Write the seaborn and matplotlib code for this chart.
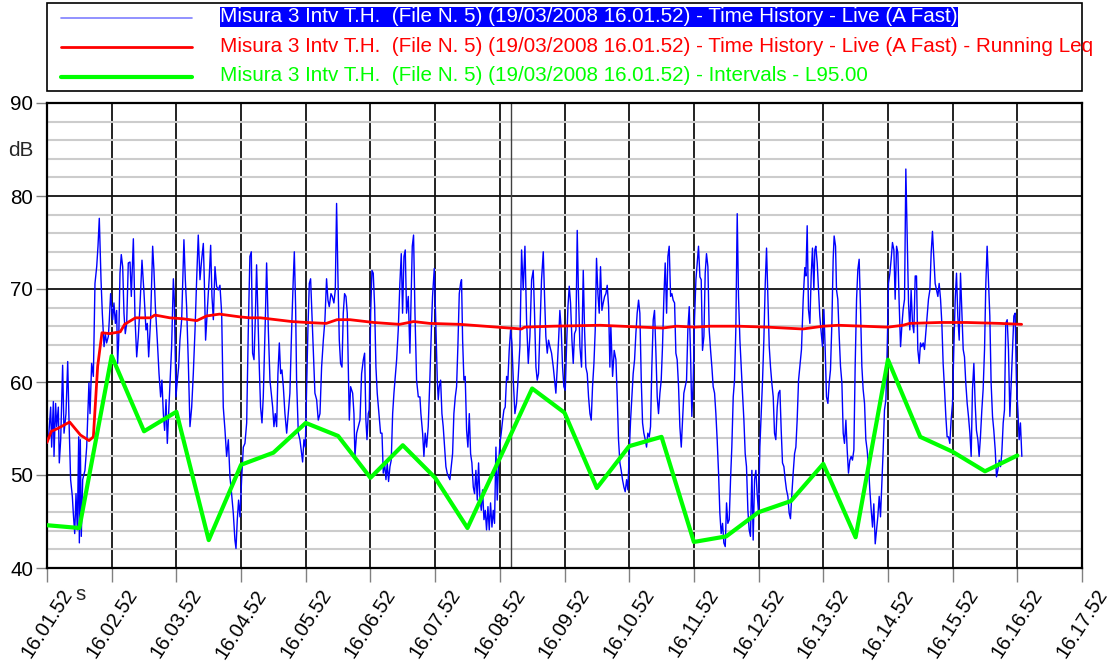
import numpy as np
import pandas as pd
import matplotlib
matplotlib.use("Agg")
import matplotlib.pyplot as plt
import matplotlib.transforms as mtransforms
import seaborn as sns
from matplotlib.lines import Line2D
from matplotlib.patches import Rectangle
from matplotlib.ticker import MultipleLocator

# =========================================================
# Data (seconds from 16.01.52, dB(A))
# =========================================================
TICK_SEC = [0, 60, 120, 180, 240, 300, 360, 420, 480, 540, 600, 660, 720, 780, 840, 900, 960]
TICK_LABELS = ["16.01.52", "16.02.52", "16.03.52", "16.04.52", "16.05.52", "16.06.52",
               "16.07.52", "16.08.52", "16.09.52", "16.10.52", "16.11.52", "16.12.52",
               "16.13.52", "16.14.52", "16.15.52", "16.16.52", "16.17.52"]

LEGEND_LABELS = [
    "Misura 3 Intv T.H.  (File N. 5) (19/03/2008 16.01.52) - Time History - Live (A Fast)",
    "Misura 3 Intv T.H.  (File N. 5) (19/03/2008 16.01.52) - Time History - Live (A Fast) - Running Leq",
    "Misura 3 Intv T.H.  (File N. 5) (19/03/2008 16.01.52) - Intervals - L95.00",
]

# time history - live (A fast)
BLUE_T = [
    0.0, 1.5, 3.4, 4.3, 5.9, 6.5, 8.0, 9.0, 10.5, 11.4,
    12.7, 14.5, 15.8, 17.6, 19.2, 20.4, 21.9, 23.5, 24.4, 25.7,
    26.9, 28.1, 29.4, 30.0, 30.9, 31.8, 33.1, 35.2, 36.8, 38.9,
    39.9, 41.4, 43.0, 44.5, 46.1, 47.3, 48.5, 50.1, 51.3, 52.9,
    54.1, 55.3, 56.9, 57.8, 59.0, 60.0, 60.9, 62.1, 63.4, 64.6,
    65.5, 66.5, 67.7, 68.9, 70.2, 71.4, 72.6, 73.9, 75.4, 77.0,
    78.2, 80.1, 81.6, 83.2, 84.7, 86.2, 88.1, 90.0, 91.8, 93.0,
    94.3, 96.1, 98.0, 99.2, 100.5, 102.3, 103.9, 105.4, 106.6, 107.9,
    109.1, 110.4, 111.6, 112.8, 114.1, 115.6, 117.2, 118.1, 119.6, 120.9,
    122.1, 123.3, 124.9, 127.0, 128.3, 129.5, 131.1, 132.6, 134.2, 135.7,
    137.3, 138.8, 140.3, 141.9, 143.4, 145.0, 145.9, 147.1, 148.7, 150.5,
    151.8, 153.0, 154.3, 155.8, 157.3, 158.9, 160.4, 162.0, 163.5, 165.1,
    166.6, 168.2,
    169.7, 171.2, 172.8, 174.3, 175.3, 176.5, 177.7, 179.0, 180.5, 182.1,
    183.6, 185.2, 186.7, 188.2, 189.5, 190.7, 192.0, 193.2, 194.4, 195.7,
    196.9, 198.1, 199.4, 200.6, 202.5, 203.7, 205.3, 206.8, 208.0, 209.3,
    210.5, 211.7, 213.0, 214.2, 215.5, 216.7, 217.9, 219.2, 220.7, 222.3,
    223.8, 225.3, 226.9, 228.4, 229.4, 230.6, 231.5, 233.1, 234.6, 236.2,
    237.1, 238.3, 239.6, 240.8, 242.0, 243.3, 244.5, 245.7, 247.0, 248.5,
    250.1, 251.6, 253.2, 254.7, 256.3, 257.8, 259.3, 260.6, 261.8, 263.4,
    264.6, 266.1, 267.4, 268.6, 269.9, 271.1, 272.3, 273.6, 274.8, 276.0,
    277.3, 278.5, 279.7, 280.4, 281.6, 283.5, 284.7, 285.6, 287.2, 288.7,
    290.3, 291.8, 293.4, 294.6, 295.8, 296.8, 298.0, 298.9, 300.2, 301.4,
    302.6, 303.9, 305.1, 306.3, 307.9, 309.4, 310.7, 311.9, 313.1, 314.4,
    315.6, 316.8, 318.1, 319.3, 320.6, 321.8, 323.0, 324.3, 325.8, 327.3,
    328.6, 329.8, 331.1, 332.3, 333.5, 335.1, 336.6, 337.6, 338.8, 340.0,
    341.3, 342.8, 344.4,
    345.9, 346.8, 348.4, 349.6, 350.8, 352.1, 353.6, 355.2, 356.7, 357.6,
    359.2, 360.4, 362.0, 362.9, 363.8, 365.1, 366.3, 367.5, 368.8, 370.0,
    371.2, 372.5, 373.7, 375.0, 376.2, 377.4, 378.7, 379.9, 381.1, 382.4,
    383.6, 384.5, 385.5, 386.7, 387.9, 389.2, 390.4, 391.7, 392.9, 394.1,
    395.4, 396.6, 397.8, 399.1, 400.3, 401.5, 402.8, 404.0, 405.3, 406.5,
    407.7, 409.0, 410.2, 411.4, 412.7, 413.9, 415.1, 416.4, 417.6, 418.9,
    420.1, 421.3, 422.6, 423.8, 425.0, 426.3, 427.5, 428.7, 430.0, 431.2,
    432.5, 434.0, 435.5, 437.1, 438.6, 440.2, 441.7, 443.3, 444.8, 446.4,
    447.9, 449.5, 451.0, 452.2, 453.5, 454.7, 455.9, 457.2, 458.7, 460.3,
    461.5, 462.7, 464.0, 465.2, 466.5, 468.0, 469.6, 471.1, 472.0, 473.3,
    474.5, 475.7, 477.0, 478.2, 479.4, 480.7, 481.9, 483.2, 484.4, 485.6,
    486.9, 488.1, 489.3, 490.6, 491.8, 493.0, 494.3, 495.8, 497.4, 498.6,
    499.8, 501.1, 502.3, 503.6, 504.8, 506.0, 507.3, 508.5, 509.7, 511.0,
    512.2, 513.4, 514.7, 515.9, 517.2, 518.4, 519.6, 520.9,
    522.1, 523.0, 524.6, 526.1, 527.7, 528.9, 530.1, 531.4, 532.6, 533.8,
    535.1, 536.3, 537.6, 538.8, 540.0, 541.3, 542.5, 543.7, 545.0, 546.2,
    547.4, 548.7, 549.9, 551.2, 552.4, 553.6, 554.9, 556.1, 557.3, 558.6,
    559.8, 561.0, 562.3, 563.5, 564.8, 566.0, 567.2, 568.5, 569.7, 570.9,
    572.2, 573.4, 574.7, 575.9, 577.1, 578.4, 579.6, 580.8, 582.1, 583.3,
    584.5, 585.8, 587.0, 588.3, 589.5, 590.7, 592.0, 593.2, 594.4, 595.7,
    596.9, 598.1, 599.4, 600.6, 601.9, 603.1, 604.3, 605.6, 606.8, 608.0,
    609.3, 610.5, 611.7, 613.0, 614.2, 615.5, 616.7, 617.9, 619.2, 620.4,
    621.6, 622.9, 624.1, 625.3, 626.6, 627.8, 629.1, 630.3, 631.5, 632.8,
    634.0, 635.2, 636.5, 637.7, 638.9, 640.2, 641.4, 642.7, 643.9, 645.1,
    646.4, 647.6, 648.8, 650.1, 651.3, 652.5, 653.8, 655.0, 656.3, 657.5,
    658.7, 660.0, 661.2, 662.4, 663.7, 664.9, 666.2, 667.4, 668.6, 669.9,
    671.1, 672.3, 673.6, 674.8, 676.0, 677.3, 678.5, 679.8, 681.0, 682.2,
    683.5, 684.7, 685.9, 687.2, 688.4, 689.6, 690.9, 692.1, 693.4, 694.6,
    695.8, 697.1,
    699.8, 701.4, 702.9, 703.9, 705.1, 706.3, 707.6, 708.8, 710.0, 711.3,
    712.2, 713.1, 714.4, 715.6, 716.8, 718.1, 719.3, 720.6, 721.8, 723.0,
    724.3, 725.5, 726.7, 728.0, 729.2, 730.1, 731.4, 732.3, 733.5, 734.8,
    736.0, 737.3, 738.5, 739.7, 741.0, 742.2, 743.4, 744.7, 745.9, 747.1,
    748.4, 749.6, 750.9, 752.1, 753.3, 754.6, 755.8, 757.0, 758.3, 759.5,
    760.7, 762.0, 763.2, 764.5, 765.7, 766.9, 768.2, 769.4, 770.6, 771.9,
    773.1, 774.3, 775.6, 776.8, 778.1, 779.3, 780.5, 781.8, 783.0, 784.2,
    785.5, 786.7, 788.0, 789.2, 790.4, 791.7, 792.9, 794.1, 795.4, 796.6,
    797.8, 799.1, 800.3, 801.5, 802.8, 804.0, 805.3, 806.5, 807.7, 809.0,
    810.2, 811.4, 812.7, 813.9, 815.1, 816.4, 817.6, 818.9, 820.1, 821.3,
    822.6, 823.8, 825.0, 826.3, 827.5, 828.8, 830.0, 831.2, 832.5, 833.7,
    834.9, 836.2, 837.4, 838.6, 839.9, 841.1, 842.4, 843.6, 844.8, 846.1,
    847.3, 848.5, 849.8, 851.0, 852.2, 853.5, 854.7, 856.0, 857.2, 858.4,
    859.7, 860.9, 862.1, 863.4, 864.6, 865.8, 867.1, 868.3, 869.6, 870.8,
    872.0, 873.3, 874.5, 875.7, 877.0, 878.2, 879.5, 880.7, 881.9, 883.2,
    884.4, 885.6, 886.9, 888.1, 889.3, 890.6, 891.8, 893.1, 894.3, 895.5,
    896.8, 898.0, 899.2, 900.5, 901.7, 902.9, 904.2,
]
BLUE_DB = [
    53.4, 54.1, 57.3, 53.0, 57.9, 52.0, 57.7, 55.2, 57.3, 51.3,
    53.8, 61.8, 54.5, 56.6, 62.2, 55.9, 49.5, 47.7, 45.9, 43.7,
    48.0, 44.1, 54.1, 42.7, 53.8, 43.4, 49.5, 50.5, 53.0, 59.9,
    56.6, 62.0, 60.6, 70.6, 72.4, 74.6, 77.6, 71.0, 67.4, 63.8,
    65.2, 64.2, 64.9, 66.7, 69.5, 68.1, 66.7, 68.5, 66.3, 67.7,
    62.0, 64.5, 71.7, 73.7, 72.4, 67.4, 65.2, 66.3, 72.8, 72.9,
    69.2, 75.4, 67.0, 62.7, 64.9, 68.1, 73.1, 69.5, 65.6, 66.3,
    62.7, 66.7, 74.6, 72.0, 68.1, 64.5, 60.9, 58.4, 60.2, 56.6,
    54.8, 58.1, 53.4, 56.6, 60.2, 63.8, 71.1, 68.8, 58.4, 60.2,
    61.6, 64.5, 66.7, 75.3, 71.0, 68.1, 62.0, 55.2, 57.3, 60.9,
    65.6, 71.0, 75.8, 71.0, 73.1, 74.9, 71.0, 64.5, 67.7, 71.3,
    74.7, 69.2, 66.7, 72.4, 70.3, 69.9, 70.4, 67.4, 57.3, 54.8,
    52.0, 53.8,
    49.8, 48.0, 45.9, 43.0, 42.1, 45.2, 47.3, 45.5, 49.5, 53.0,
    53.4, 55.6, 65.6, 73.5, 74.0, 63.1, 62.4, 66.7, 72.6, 66.7,
    61.6, 57.3, 55.6, 58.4, 66.7, 72.8, 65.6, 60.2, 58.8, 57.3,
    55.2, 56.6, 55.2, 60.9, 64.2, 60.9, 61.3, 59.5, 56.6, 54.5,
    56.6, 58.8, 65.6, 71.0, 74.0, 68.1, 60.2, 54.5, 53.8, 52.3,
    51.4, 53.8, 53.0, 59.5, 65.6, 70.6, 71.1, 67.4, 63.1, 58.8,
    58.1, 55.9, 56.6, 61.6, 64.5, 66.7, 71.1, 68.8, 68.1, 69.5,
    69.2, 68.5, 69.9, 79.2, 71.0, 64.5, 62.0, 61.6, 67.4, 69.5,
    69.2, 67.4, 60.2, 55.9, 59.5, 58.8, 56.6, 52.0, 54.5, 55.2,
    55.9, 60.9, 62.4, 63.1, 55.9, 53.8, 56.6, 57.0, 67.4, 72.0,
    71.7, 68.1, 61.6, 58.8, 56.6, 54.5, 54.5, 50.2, 51.3, 49.5,
    51.3, 49.3, 50.9, 51.6, 56.6, 58.8, 60.6, 62.4, 65.6, 70.6,
    73.8, 67.4, 73.5, 74.2, 67.4, 69.2, 63.1, 68.1, 74.6, 75.8,
    67.4, 60.2, 58.4,
    58.4, 56.6, 54.5, 52.0, 54.5, 53.0, 55.2, 60.6, 66.3, 69.2,
    72.2, 67.4, 60.2, 58.1, 59.5, 60.2, 56.6, 55.2, 53.0, 50.9,
    50.2, 49.8, 49.5, 50.9, 52.3, 56.6, 58.4, 59.5, 63.8, 69.5,
    70.6, 71.0, 64.5, 60.2, 60.6, 54.8, 53.0, 56.6, 52.3, 51.3,
    48.7, 48.0, 50.5, 47.3, 51.3, 47.7, 46.2, 48.4, 45.2, 46.2,
    44.1, 46.6, 44.1, 47.0, 44.4, 46.2, 44.8, 53.0, 47.3, 51.3,
    53.4, 54.5, 55.9, 57.0, 57.3, 60.6, 60.2, 63.4, 65.6, 64.2,
    60.2, 56.6, 57.7, 60.6, 63.8, 74.2, 69.9, 74.6, 66.7, 62.0,
    64.9, 71.0, 72.0, 67.4, 61.6, 60.2, 60.9, 65.6, 71.0, 74.0,
    69.2, 64.9, 63.1, 64.5, 63.8, 63.1, 61.6, 59.9, 58.8, 61.6,
    64.5, 67.7, 65.6, 61.6, 59.5, 59.1, 63.8, 68.1, 70.3, 68.5,
    64.5, 62.0, 65.2, 65.6, 76.3, 69.2, 63.8, 61.6, 72.0, 65.6,
    61.6, 60.9, 58.4, 56.6, 55.9, 59.5, 62.0, 65.6, 73.3, 69.5,
    67.4, 72.4, 67.7, 68.5, 69.2, 69.5, 70.4, 68.1,
    61.6, 66.0, 60.6, 63.4, 62.4, 58.4, 53.8, 51.3, 50.5, 49.5,
    48.7, 48.2, 49.5, 48.4, 52.3, 55.9, 58.4, 60.9, 62.4, 65.2,
    67.4, 68.8, 67.4, 60.2, 55.6, 54.5, 53.8, 53.0, 54.5, 54.1,
    55.2, 61.6, 66.7, 67.7, 63.1, 58.4, 56.6, 58.8, 60.2, 63.8,
    69.2, 72.8, 67.4, 73.5, 74.6, 69.2, 69.5, 68.8, 68.5, 63.1,
    62.4, 59.5, 55.2, 53.0, 55.9, 58.8, 59.5, 60.2, 65.6, 68.1,
    63.1, 56.3, 60.2, 66.7, 71.0, 72.8, 74.6, 71.3, 71.0, 63.4,
    64.9, 71.7, 73.8, 72.4, 65.6, 63.4, 61.6, 59.5, 58.8, 56.6,
    53.8, 50.2, 45.9, 43.7, 44.8, 42.7, 42.3, 47.0, 44.8, 45.2,
    49.5, 53.0, 58.4, 60.2, 65.6, 78.1, 69.2, 64.5, 61.6, 58.8,
    55.9, 52.3, 50.9, 46.2, 44.1, 43.4, 50.5, 43.0, 49.5, 50.5,
    48.0, 45.9, 53.0, 56.6, 60.2, 64.5, 70.6, 74.4, 69.2, 63.8,
    61.6, 59.9, 58.4, 54.5, 53.8, 57.3, 58.8, 59.1, 54.8, 51.3,
    50.9, 49.5, 48.4, 47.7, 45.9, 45.3, 48.0, 50.2, 52.3, 53.0,
    55.9, 60.2,
    63.5, 68.9, 72.3, 71.4, 76.8, 67.8, 66.3, 71.4, 74.4, 69.9,
    74.2, 74.6, 72.8, 69.9, 67.1, 65.3, 63.8, 67.8, 63.5, 58.4,
    57.7, 59.9, 61.3, 66.3, 73.2, 75.7, 74.6, 69.9, 68.9, 64.9,
    61.7, 59.9, 54.5, 53.4, 55.9, 52.7, 50.2, 51.6, 52.0, 51.6,
    52.7, 61.7, 68.9, 72.1, 73.2, 67.8, 61.7, 59.2, 57.7, 53.8,
    52.7, 50.9, 48.4, 46.2, 44.4, 46.9, 42.6, 44.1, 45.5, 47.7,
    45.5, 49.1, 52.7, 57.0, 58.1, 63.5, 70.6, 71.7, 73.2, 75.0,
    74.2, 68.9, 74.6, 73.9, 68.5, 63.8, 66.0, 67.8, 68.9, 82.9,
    76.0, 68.5, 65.6, 69.9, 66.3, 65.3, 71.4, 71.4, 63.5, 62.0,
    64.2, 63.8, 64.2, 63.5, 65.3, 67.1, 68.9, 69.9, 73.9, 76.2,
    73.2, 70.6, 69.9, 69.2, 70.6, 68.9, 66.3, 62.0, 59.2, 56.3,
    54.1, 54.1, 53.4, 55.9, 57.7, 63.5, 68.9, 71.7, 67.1, 64.5,
    71.7, 67.8, 63.5, 62.7, 59.9, 57.7, 56.3, 54.5, 52.0, 59.2,
    62.0, 57.7, 54.8, 53.8, 52.0, 54.1, 57.0, 59.2, 63.5, 70.6,
    74.6, 70.6, 67.1, 59.9, 56.3, 54.8, 52.7, 49.8, 50.5, 51.6,
    50.9, 52.3, 55.6, 57.0, 66.3, 66.7, 63.5, 56.3, 59.9, 63.5,
    67.1, 67.4, 59.9, 57.0, 53.8, 55.6, 52.0,
]

# running Leq
LEQ_T = [0, 4, 10, 21, 31, 39, 43, 47, 51, 58,
         68, 72, 82, 96, 100, 114, 126, 139, 148, 160,
         179, 188, 198, 227, 241, 259, 269, 281, 303, 327,
         340, 355, 383, 429, 440, 443, 469, 513, 571, 584,
         601, 615, 641, 668, 701, 720, 734, 780, 794, 800,
         828, 853, 884, 904]
LEQ_DB = [53.5, 54.7, 55.0, 55.7, 54.3, 53.7, 54.1, 61.7, 65.3, 65.2,
          65.4, 66.2, 66.9, 66.9, 67.2, 66.9, 66.8, 66.6, 67.1, 67.3,
          67.0, 66.9, 66.9, 66.5, 66.4, 66.3, 66.7, 66.7, 66.4, 66.2,
          66.5, 66.3, 66.2, 65.8, 65.7, 65.9, 66.0, 66.1, 65.8, 66.0,
          65.9, 66.0, 66.0, 65.9, 65.7, 66.0, 66.1, 65.9, 66.1, 66.3,
          66.4, 66.4, 66.3, 66.2]

# intervals - L95 (30 s)
L95_T = [0, 30, 60, 90, 120, 150, 180, 210, 240, 270, 300, 330, 360, 390, 420, 450,
         480, 510, 540, 570, 600, 630, 660, 690, 720, 750, 780, 810, 840, 870, 900]
L95_DB = [44.6, 44.3, 62.8, 54.7, 56.8, 43.0, 51.1, 52.4, 55.6, 54.2, 49.7, 53.2, 49.7, 44.3, 51.8, 59.3,
          56.7, 48.6, 53.1, 54.1, 42.8, 43.4, 46.0, 47.2, 51.2, 43.3, 62.4, 54.1, 52.5, 50.4, 52.1]

CURSOR_T = 430

# =========================================================
# Style
# =========================================================
sns.set_theme(style="white")
plt.rcParams['font.family'] = ['Liberation Sans', 'DejaVu Sans']
FS = 14.9
FS_X = 14.4

W, H = 1110, 663
fig = plt.figure(figsize=(W / 100, H / 100), dpi=100)
ax = fig.add_axes([47 / W, 1 - 568 / H, (1082 - 47) / W, (568 - 103) / H])

blue_df = pd.DataFrame({"t": BLUE_T, "db": BLUE_DB})
leq_df = pd.DataFrame({"t": LEQ_T, "db": LEQ_DB})
l95_df = pd.DataFrame({"t": L95_T, "db": L95_DB})

sns.lineplot(data=blue_df, x="t", y="db", estimator=None, sort=False,
             color="#0000FF", lw=1.0, ax=ax, zorder=3)
sns.lineplot(data=leq_df, x="t", y="db", estimator=None, sort=False,
             color="#FF0000", lw=2.0, ax=ax, zorder=4)
sns.lineplot(data=l95_df, x="t", y="db", estimator=None, sort=False,
             color="#00FF00", lw=3.0, ax=ax, zorder=5)

ax.axvline(CURSOR_T, color="#404040", lw=1.0, zorder=2)

# ------------------ axes / grid ------------------
ax.set_xlim(0, 960)
ax.set_ylim(40, 90)
ax.set_xlabel("")
ax.set_ylabel("")

ax.set_yticks(range(40, 91, 10))
ax.yaxis.set_minor_locator(MultipleLocator(2))
ax.set_xticks(TICK_SEC)
ax.set_xticklabels(TICK_LABELS, rotation=57, ha="center")

# nudge x labels a little to the right, as in the original
shift = mtransforms.ScaledTranslation(3 / 100, 0, fig.dpi_scale_trans)
for lbl in ax.get_xticklabels():
    lbl.set_transform(lbl.get_transform() + shift)

ax.set_axisbelow(True)
ax.grid(which="minor", axis="y", color="#CCCCCC", lw=1.5)
ax.grid(which="major", axis="both", color="#111111", lw=1.3)

ax.tick_params(axis="y", which="major", length=8, width=1, color="#808080",
               labelsize=FS, pad=2, left=True, labelcolor="black")
ax.tick_params(axis="x", which="major", length=10, width=1, color="#808080",
               labelsize=FS_X, pad=3, bottom=True, labelcolor="black")
ax.tick_params(which="minor", length=0)

for s in ax.spines.values():
    s.set_color("black")
    s.set_linewidth(1.6)

fig.text(21 / W, 1 - 150 / H, "dB", fontsize=FS, ha="center", va="center")
fig.text(81 / W, 1 - 595 / H, "s", fontsize=FS, ha="center", va="center")

# ------------------ legend box ------------------
fig.add_artist(Rectangle((47 / W, 1 - 90.7 / H), (1082 - 47) / W, (90.7 - 3.3) / H,
                         transform=fig.transFigure, fill=False, ec="black", lw=1.2))

LEG_COLORS = ["#7F7FFF", "#FF0000", "#00FF00"]
LEG_LW = [1.2, 2.0, 3.0]
LEG_Y = [17.7, 47.3, 76.7]
for i, lab in enumerate(LEGEND_LABELS):
    yy = 1 - LEG_Y[i] / H
    fig.add_artist(Line2D([61 / W, 192 / W], [yy, yy], transform=fig.transFigure,
                          color=LEG_COLORS[i], lw=LEG_LW[i]))
    if i == 0:
        fig.text(220 / W, 1 - (LEG_Y[i] + 4.5) / H, lab, fontsize=FS, color="white",
                 ha="left", va="baseline",
                 bbox=dict(boxstyle="square,pad=0.02", fc="#0000FF", ec="none"))
    else:
        fig.text(220 / W, 1 - (LEG_Y[i] + 4.5) / H, lab, fontsize=FS,
                 color=LEG_COLORS[i], ha="left", va="baseline")

fig.savefig("out.png", dpi=100)
plt.close(fig)
